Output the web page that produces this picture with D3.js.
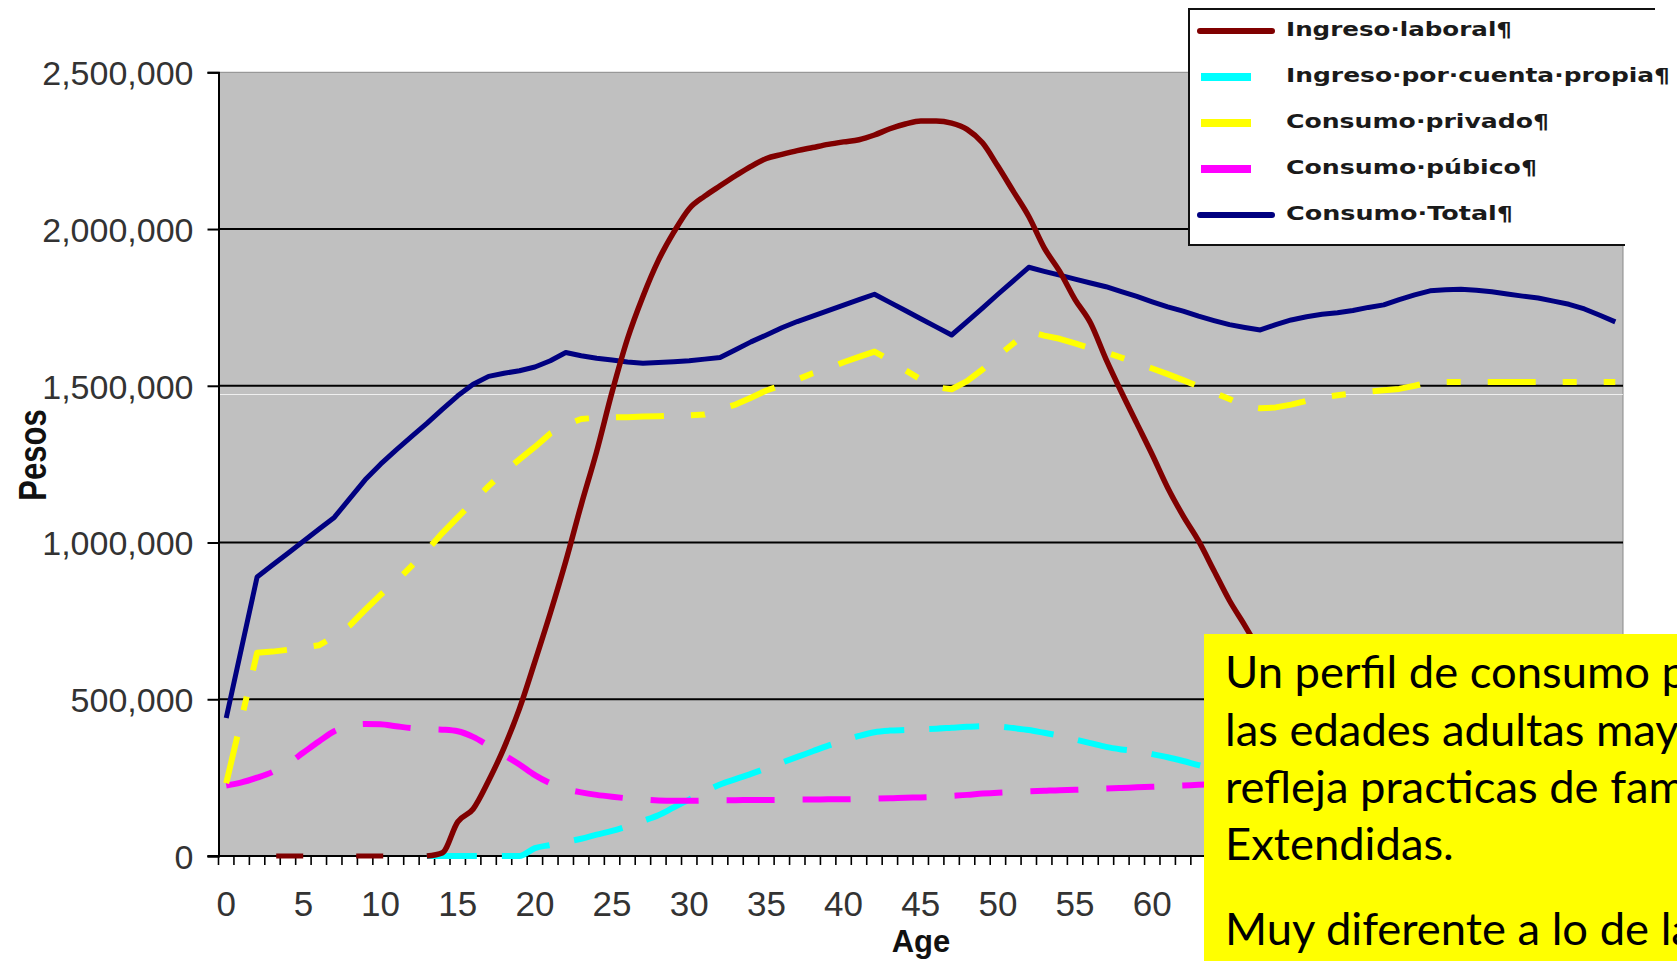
<!DOCTYPE html>
<html><head><meta charset="utf-8">
<script src="https://cdn.jsdelivr.net/npm/d3@7"></script>
<style>html,body{margin:0;padding:0;background:#fff;overflow:hidden}</style>
</head><body>
<svg id="chart" width="1677" height="961"></svg>
<script>
// ---------- DATA (values in thousands of pesos) ----------
const UNIT = 1000;
const ages = d3.range(0, 91);
const ingresoLaboral = [
  0,0,0,0,0,0,0,0,0,0,
  0,0,0,0,10,109,150,240,345,470,
  620,775,940,1120,1290,1480,1650,1785,1900,1990,
  2065,2105,2138,2170,2200,2225,2238,2250,2260,2270,
  2278,2285,2300,2320,2335,2345,2345,2338,2318,2275,
  2200,2120,2040,1940,1865,1775,1700,1585,1480,1380,
  1280,1175,1085,1005,910,815,735,650,null,null,
  null,null,null,null,null,null,null,null,null,null,
  null,null,null,null,null,null,null,null,null,null,null
];
const ingresoCuentaPropia = [
  null,null,null,null,null,null,null,null,null,null,
  null,null,null,0,0,0,0,0,0,0,
  25,35,45,55,68,80,95,112,130,155,
  180,205,228,245,262,280,298,316,334,352,
  368,383,395,400,402,404,406,409,412,414,
  413,408,402,393,384,372,360,348,340,334,
  325,315,303,290,278,null,null,null,null,null,
  null,null,null,null,null,null,null,null,null,null,
  null,null,null,null,null,null,null,null,null,null,null
];
const consumoPrivado = [
  232,440,648,652,658,665,672,700,735,785,
  833,875,925,975,1030,1080,1130,1180,1225,1265,
  1305,1348,1375,1394,1398,1399,1400,1402,1403,1405,
  1406,1408,1425,1440,1462,1485,1502,1520,1540,1555,
  1575,1592,1609,1582,1550,1520,1495,1489,1515,1552,
  1595,1635,1673,1660,1650,1635,1620,1606,1590,1572,
  1555,1537,1518,1498,1478,1458,1435,1428,1431,1440,
  1452,1463,1470,1476,1481,1486,1490,1500,1512,1512,
  1512,1512,1512,1512,1512,1512,1512,1512,1512,1512,1512
];
const consumoPublico = [
  225,235,250,268,295,330,365,398,415,421,
  420,414,408,405,403,398,380,352,322,292,
  258,232,214,203,195,189,184,180,177,176,
  176,177,178,178,179,179,179,180,180,181,
  181,182,183,184,186,187,189,192,195,199,
  202,204,206,208,210,211,213,215,217,219,
  221,223,225,227,229,null,null,null,null,null,
  null,null,null,null,null,null,null,null,null,null,
  null,null,null,null,null,null,null,null,null,null,null
];
const consumoTotal = [
  440,665,890,928,966,1004,1042,1080,1140,1200,
  1250,1295,1338,1380,1425,1468,1505,1530,1540,1548,
  1560,1580,1606,1596,1588,1582,1576,1572,1574,1577,
  1580,1585,1590,1615,1640,1662,1685,1705,1722,1740,
  1757,1775,1792,1766,1740,1714,1688,1662,1705,1748,
  1792,1835,1878,1865,1853,1840,1828,1816,1800,1785,
  1768,1752,1738,1722,1708,1695,1686,1678,1695,1710,
  1720,1728,1733,1740,1750,1758,1775,1790,1803,1806,
  1808,1805,1800,1793,1786,1780,1770,1760,1745,1725,1704
];
const yTickValues = [0, 500000, 1000000, 1500000, 2000000, 2500000];
const xTickLabels = d3.range(0, 61, 5);   // labels beyond 60 are hidden under the note box
const legendLabels = ["Ingreso\u00b7laboral\u00b6", "Ingreso\u00b7por\u00b7cuenta\u00b7propia\u00b6",
  "Consumo\u00b7privado\u00b6", "Consumo\u00b7p\u00fabico\u00b6", "Consumo\u00b7Total\u00b6"];
const noteLines = ["Un perfil de consumo p", "las edades adultas may",
  "refleja practicas de fam", "Extendidas.", "", "Muy diferente a lo de la"];

// ---------- LAYOUT ----------
const svg = d3.select("#chart");
const L = 218.5, R = 1623, T = 72.3, B = 856;
const x = d3.scaleBand().domain(ages).range([L, R]).paddingInner(0).paddingOuter(0);
const cx = a => x(a) + x.bandwidth() / 2;
const y = d3.scaleLinear().domain([0, 2500000]).range([B, T]);

// plot background
svg.append("rect").attr("x", L).attr("y", T).attr("width", R - L).attr("height", B - T)
  .attr("fill", "#c0c0c0").attr("stroke", "#8a8a8a").attr("stroke-width", 1);

// gridlines
svg.append("g").selectAll("line").data(yTickValues.filter(v => v > 0 && v < 2500000)).join("line")
  .attr("x1", L).attr("x2", R).attr("y1", d => y(d)).attr("y2", d => y(d))
  .attr("stroke", "#000").attr("stroke-width", 2);
// faint seam in the pasted picture
svg.append("line").attr("x1", L).attr("x2", R).attr("y1", 394.5).attr("y2", 394.5)
  .attr("stroke", "#fff").attr("stroke-opacity", 0.75).attr("stroke-width", 1);

// y axis
const yAxis = d3.axisLeft(y).tickValues(yTickValues).tickSize(11).tickPadding(14)
  .tickFormat(d3.format(","));
const gy = svg.append("g").attr("transform", `translate(${L},0)`).call(yAxis);
gy.select(".domain").attr("stroke", "#000").attr("stroke-width", 2);
gy.selectAll(".tick line").attr("stroke", "#000").attr("stroke-width", 2);
gy.selectAll(".tick text").attr("font-family", "'Liberation Sans', Arial, sans-serif")
  .attr("font-size", 34).attr("fill", "#333").attr("dy", "0.36em");

// x axis
svg.append("line").attr("x1", L - 11).attr("x2", R).attr("y1", B).attr("y2", B)
  .attr("stroke", "#000").attr("stroke-width", 2);
svg.append("g").selectAll("line").data(d3.range(0, ages.length + 1)).join("line")
  .attr("x1", i => L + i * x.bandwidth()).attr("x2", i => L + i * x.bandwidth())
  .attr("y1", B).attr("y2", B + 9).attr("stroke", "#000").attr("stroke-width", 1.6);
svg.append("g").selectAll("text").data(xTickLabels).join("text")
  .attr("x", d => cx(d)).attr("y", 916).attr("text-anchor", "middle")
  .attr("font-family", "'Liberation Sans', Arial, sans-serif").attr("font-size", 35)
  .attr("fill", "#333").text(d => d);

// axis titles
svg.append("text").attr("x", 921).attr("y", 952).attr("text-anchor", "middle")
  .attr("font-family", "'Liberation Sans', Arial, sans-serif").attr("font-weight", "bold")
  .attr("font-size", 31).attr("fill", "#111").text("Age");
svg.append("text").attr("transform", "translate(46,455) rotate(-90) scale(1,1.25)")
  .attr("text-anchor", "middle").attr("font-family", "'Liberation Sans', Arial, sans-serif")
  .attr("font-weight", "bold").attr("font-size", 31).attr("fill", "#111").text("Pesos");

// ---------- SERIES ----------
const mk = (arr, curve) => d3.line().defined((d, i) => arr[i] !== null)
  .x((d, i) => cx(ages[i])).y((d, i) => y(arr[i] * UNIT)).curve(curve);
const plot = svg.append("g");
function drawSeries(arr, color, width, dash, curve) {
  plot.append("path").attr("d", mk(arr, curve)(arr)).attr("fill", "none")
    .attr("stroke", color).attr("stroke-width", width)
    .attr("stroke-dasharray", dash || null).attr("stroke-linejoin", "round");
}
drawSeries(ingresoCuentaPropia, "#00ffff", 6, "50 25", d3.curveMonotoneX);
drawSeries(consumoPublico, "#ff00ff", 6, "48 28", d3.curveMonotoneX);
drawSeries(consumoPrivado, "#ffff00", 6, "48 27 14 27", d3.curveLinear);
drawSeries(consumoTotal, "#000080", 5, null, d3.curveLinear);
// labour income: zero stretch (before age 14) drawn separately
const firstPos = ingresoLaboral.findIndex(v => v > 0) - 1;
const zeroPart = ingresoLaboral.map((v, i) => i <= firstPos ? v : null);
const posPart = ingresoLaboral.map((v, i) => i >= firstPos ? v : null);
plot.append("path").attr("d", mk(zeroPart, d3.curveLinear)(zeroPart)).attr("fill", "none")
  .attr("stroke", "#800000").attr("stroke-width", 5).attr("stroke-dasharray", "27 53")
  .attr("stroke-dashoffset", 30);
drawSeries(posPart, "#800000", 5.5, null, d3.curveMonotoneX);

// ---------- LEGEND ----------
const lg = svg.append("g");
lg.append("rect").attr("x", 1189).attr("y", 9).attr("width", 466).attr("height", 236).attr("fill", "#fff");
lg.append("path").attr("d", "M1655,9 H1189 V245 H1625").attr("fill", "none")
  .attr("stroke", "#111").attr("stroke-width", 2);
const legendColors = ["#800000", "#00ffff", "#ffff00", "#ff00ff", "#000080"];
const legendBase = [36, 82, 128, 174, 220];
const legendWidths = [226, 384, 263, 251, 227];
legendLabels.forEach((lab, i) => {
  const cy = legendBase[i] - 5;
  if (i === 0 || i === 4) {
    lg.append("line").attr("x1", 1200).attr("x2", 1272).attr("y1", cy).attr("y2", cy)
      .attr("stroke", legendColors[i]).attr("stroke-width", 6).attr("stroke-linecap", "round");
  } else {
    lg.append("rect").attr("x", 1201).attr("y", cy - 4).attr("width", 50).attr("height", 8)
      .attr("fill", legendColors[i]);
  }
  lg.append("text").attr("x", 1286).attr("y", legendBase[i])
    .attr("font-family", "'DejaVu Sans', Verdana, sans-serif").attr("font-weight", "bold")
    .attr("font-size", 19).attr("fill", "#1a1a1a")
    .attr("textLength", legendWidths[i]).attr("lengthAdjust", "spacingAndGlyphs").text(lab);
});

// ---------- NOTE BOX ----------
svg.append("rect").attr("x", 1204).attr("y", 634).attr("width", 473).attr("height", 327).attr("fill", "#ffff00");
const probe = svg.append("text").attr("font-family", "Lato, 'Open Sans', sans-serif")
  .attr("font-size", 40).text("Un perfil de consumo");
const fs = 40 * 425 / probe.node().getComputedTextLength();
probe.remove();
const noteBase = [688, 746, 803, 860, null, 945];
noteLines.forEach((t, i) => {
  if (!t) return;
  svg.append("text").attr("x", 1225).attr("y", noteBase[i])
    .attr("font-family", "Lato, 'Open Sans', sans-serif").attr("font-size", fs)
    .attr("fill", "#000").text(t);
});
</script>
</body></html>
